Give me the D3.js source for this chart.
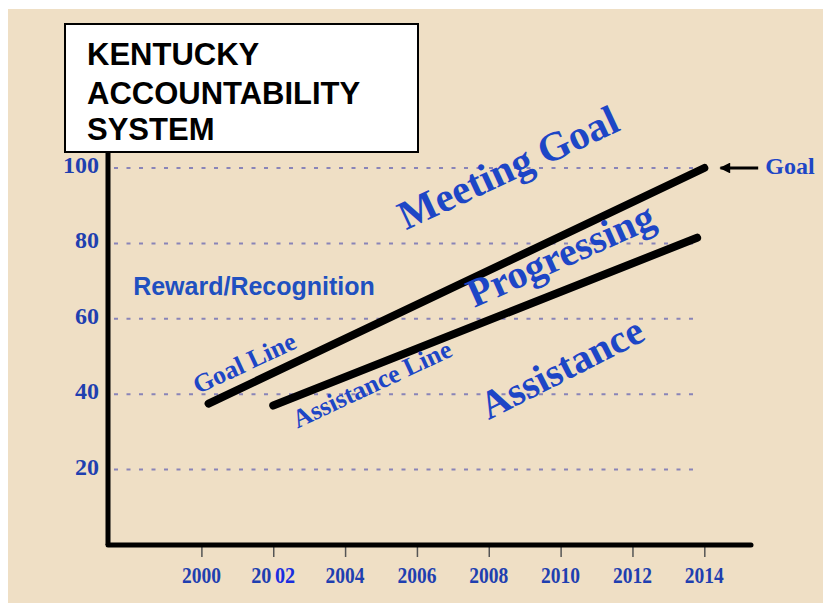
<!DOCTYPE html>
<html>
<head>
<meta charset="utf-8">
<script src="https://cdn.jsdelivr.net/npm/d3@7"></script>
<style>
  html, body { margin: 0; padding: 0; background: #ffffff; }
  svg { display: block; }
</style>
</head>
<body>
<svg id="chart" width="823" height="613"></svg>
<script>
// ---------- DATA ----------
const titleLines = ["KENTUCKY", "ACCOUNTABILITY", "SYSTEM"];
const xYears = [2000, 2002, 2004, 2006, 2008, 2010, 2012, 2014];
const yTicks = [20, 40, 60, 80, 100];
const goalLine = [{ year: 2000.2, value: 37.5 }, { year: 2014, value: 100 }];
const assistanceLine = [{ year: 2002, value: 37 }, { year: 2013.8, value: 81.5 }];
const regionLabels = [
  { text: "Meeting Goal", year: 2008.7, value: 96.8, angle: -25, size: 41 },
  { text: "Progressing", year: 2010.15, value: 73.7, angle: -24, size: 40 },
  { text: "Assistance", year: 2010.2, value: 43.8, angle: -27, size: 40 },
  { text: "Goal Line", year: 2001.3, value: 46.2, angle: -25, size: 26 },
  { text: "Assistance Line", year: 2004.85, value: 40.6, angle: -25, size: 26 }
];
const rewardLabel = { text: "Reward/Recognition", year: 1998.1, value: 66.3 };
const goalMarker = { text: "Goal", year: 2015.7, value: 100, arrowFrom: 2015.5, arrowTo: 2014.45 };

// ---------- SETUP ----------
const svg = d3.select("#chart");
const blue = "#1f3fb0";
const brightBlue = "#1d46c6";

svg.append("rect").attr("x", 8).attr("y", 9).attr("width", 815).attr("height", 594)
  .attr("fill", "#efdfc5");

const x = d3.scaleLinear().domain([1997.4, 2015.3]).range([108, 751]);
const y = d3.scaleLinear().domain([0, 100]).range([545, 168]);

// gridlines
svg.append("g").selectAll("line").data(yTicks).join("line")
  .attr("x1", x.range()[0] + 6).attr("x2", x(2014) - 5)
  .attr("y1", d => y(d)).attr("y2", d => y(d))
  .attr("stroke", "#8984b8").attr("stroke-width", 2)
  .attr("stroke-dasharray", "4,8.5");

// y tick labels
svg.append("g").selectAll("text").data(yTicks).join("text")
  .attr("x", 99).attr("y", d => y(d)).attr("dy", 5)
  .attr("text-anchor", "end")
  .attr("font-family", "'Liberation Serif', 'Times New Roman', serif")
  .attr("font-weight", "bold").attr("font-size", 24)
  .attr("fill", blue)
  .text(d => d);

// x axis (ticks only, custom line)
const xAxis = d3.axisBottom(x).tickValues(xYears).tickSize(12).tickFormat("");
const gx = svg.append("g").attr("transform", `translate(0,${y(0)})`).call(xAxis);
gx.select(".domain").remove();
gx.selectAll(".tick line").attr("stroke", "#555").attr("stroke-width", 1.5);

// x tick labels
const xl = svg.append("g").selectAll("text").data(xYears).join("text")
  .attr("x", d => x(d)).attr("y", 583)
  .attr("text-anchor", "middle")
  .attr("font-family", "'Liberation Serif', 'Times New Roman', serif")
  .attr("font-weight", "bold").attr("font-size", 23)
  .attr("fill", blue)
  .attr("textLength", 39).attr("lengthAdjust", "spacingAndGlyphs");
xl.each(function(d) {
  const t = d3.select(this);
  if (d === 2002) {
    t.attr("textLength", 44);
    const s = String(d);
    t.append("tspan").text(s.slice(0, 2));
    t.append("tspan").attr("dx", 4).attr("fill", "#1a2ee0").text(s.slice(2));
  } else {
    t.text(d);
  }
});

// axis lines
svg.append("line").attr("x1", x.range()[0]).attr("x2", x.range()[1])
  .attr("y1", y(0)).attr("y2", y(0))
  .attr("stroke", "#000").attr("stroke-width", 5).attr("stroke-linecap", "round");
svg.append("line").attr("x1", x.range()[0]).attr("x2", x.range()[0])
  .attr("y1", y(0)).attr("y2", 140)
  .attr("stroke", "#000").attr("stroke-width", 5);

// goal & assistance lines
const line = d3.line().x(d => x(d.year)).y(d => y(d.value));
[goalLine, assistanceLine].forEach(data => {
  svg.append("path").datum(data).attr("d", line)
    .attr("fill", "none").attr("stroke", "#000")
    .attr("stroke-width", 8).attr("stroke-linecap", "round");
});

// region labels
svg.append("g").selectAll("text").data(regionLabels).join("text")
  .attr("transform", d => `translate(${x(d.year)},${y(d.value)}) rotate(${d.angle})`)
  .attr("text-anchor", "middle")
  .attr("font-family", "'Liberation Serif', 'Times New Roman', serif")
  .attr("font-weight", "bold")
  .attr("font-size", d => d.size)
  .attr("fill", brightBlue)
  .text(d => d.text);

svg.append("text")
  .attr("x", x(rewardLabel.year)).attr("y", y(rewardLabel.value))
  .attr("font-family", "'Liberation Sans', Arial, sans-serif")
  .attr("font-weight", "bold").attr("font-size", 25)
  .attr("fill", "#2050c0")
  .text(rewardLabel.text);

// goal arrow
const defs = svg.append("defs");
defs.append("marker").attr("id", "arrow").attr("viewBox", "0 0 10 10")
  .attr("refX", 9).attr("refY", 5).attr("markerWidth", 4.2).attr("markerHeight", 3.6)
  .attr("markerUnits", "strokeWidth").attr("orient", "auto")
  .append("path").attr("d", "M0,0 L10,5 L0,10 Z").attr("fill", "#000");
svg.append("line")
  .attr("x1", x(goalMarker.arrowFrom)).attr("x2", x(goalMarker.arrowTo))
  .attr("y1", y(goalMarker.value)).attr("y2", y(goalMarker.value))
  .attr("stroke", "#000").attr("stroke-width", 3)
  .attr("marker-end", "url(#arrow)");
svg.append("text")
  .attr("x", x(goalMarker.year)).attr("y", y(goalMarker.value)).attr("dy", 6)
  .attr("font-family", "'Liberation Serif', 'Times New Roman', serif")
  .attr("font-weight", "bold").attr("font-size", 24)
  .attr("fill", brightBlue)
  .text(goalMarker.text);

// title box
svg.append("rect").attr("x", 65).attr("y", 24).attr("width", 353).attr("height", 128)
  .attr("fill", "#fff").attr("stroke", "#000").attr("stroke-width", 2);
svg.append("g").selectAll("text").data(titleLines).join("text")
  .attr("x", 87).attr("y", (d, i) => [65, 104, 140][i])
  .attr("font-family", "'Liberation Sans', Arial, sans-serif")
  .attr("font-weight", "bold").attr("font-size", 31)
  .attr("fill", "#000")
  .text(d => d);
</script>
</body>
</html>
